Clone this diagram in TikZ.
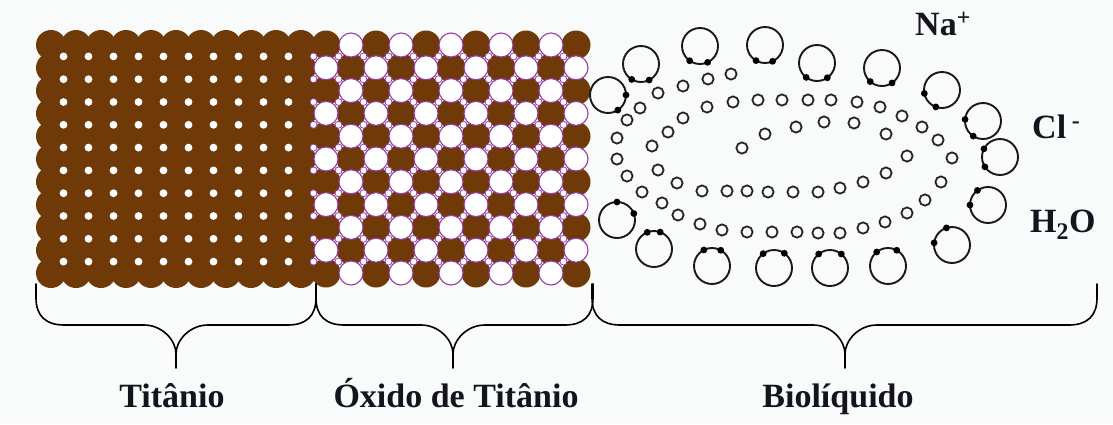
\documentclass[tikz,border=0pt]{standalone}
\usepackage{fontspec}
\setmainfont{Liberation Serif}
\definecolor{tibrown}{RGB}{112,58,8}
\definecolor{oxline}{RGB}{150,60,170}
\definecolor{paper}{RGB}{249,250,250}
\definecolor{ink}{RGB}{20,20,30}
\begin{document}
\begin{tikzpicture}[x=1pt,y=-1pt,
  atom/.style={fill=tibrown},
  vacancy/.style={fill=white,draw=oxline,line width=1.1pt},
  gap/.style={fill=white},
  oxgap/.style={fill=white,draw=oxline,line width=0.8pt},
  ion/.style={draw=black!85,line width=1.8pt},
  water/.style={draw=black!90,line width=1.9pt},
  hydrogen/.style={fill=black},
  bracepath/.style={draw=black,line width=1.6pt,line join=round,line cap=round},
  label/.style={font=\fontsize{34}{40}\selectfont\bfseries,text=ink,inner sep=0pt}]
\fill[paper] (0,0) rectangle (1113,424);
\useasboundingbox (0,0) rectangle (1113,424);

% titanium: close-packed metal atoms
\foreach \i in {0,...,10}
  \foreach \j in {0,...,10}
    \fill[atom] (51+25*\i,45+22.8*\j) circle[radius=15pt];

% titanium oxide: metal sites of the checkerboard
\foreach \i in {0,...,10}
  \foreach \j in {0,...,10} {
    \pgfmathtruncatemacro\site{mod(\i+\j,2)}
    \ifnum\site=0 \fill[atom] (326+25*\i,45+22.8*\j) circle[radius=14.5pt]; \fi
  }
% titanium oxide: oxygen sites
\foreach \i in {0,...,10}
  \foreach \j in {0,...,10} {
    \pgfmathtruncatemacro\site{mod(\i+\j,2)}
    \ifnum\site=1 \filldraw[vacancy] (326+25*\i,45+22.8*\j) circle[radius=12pt]; \fi
  }

% interstitial holes
\foreach \k in {0,...,9}
  \foreach \m in {0,...,9}
    \fill[gap] (63.5+25*\k,56.4+22.8*\m) circle[radius=3.9pt];
\foreach \k in {10,...,20}
  \foreach \m in {0,...,9}
    \filldraw[oxgap] (63.5+25*\k,56.4+22.8*\m) circle[radius=3.5pt];

% ions in the biological fluid
\foreach \x/\y in {731/74,708/79,683/86,658/93,640/108,627/120,617/138,617/159,
  627/176,642/192,662/203,678/215,700/224,722/230,747/232,772/232,797/232,818/233,
  840/233,863/228,885/222,907/213,925/200,941/182,952/158,938/140,922/127,902/116,
  880/107,857/102,831/100,808/100,782/100,758/100,733/102,707/107,683/118,668/132,
  652/146,658/170,677/183,702/191,727/191,747/191,768/192,793/192,818/192,840/188,
  863/182,886/173,907/156,886/134,854/123,824/122,796/127,765/134,742/148}
  \draw[ion] (\x,\y) circle[radius=5.6pt];

% water molecules: oxygen ring with two hydrogens
\foreach \x/\y/\a/\b in {608/95/0/-57, 641/64/-121/-63, 700/46/-125/-65,
  765/45/-120/-65, 817/63/-127/-55, 882/68/-131/-56, 942/90/-169/-110,
  983/121/175/-123, 1000/157/153/-147, 988/205/126/180, 952/245/108/173,
  888/266/129/61, 830/268/129/51, 774/268/127/55, 712/266/117/61,
  654/249/112/70, 617/220/90/21} {
  \draw[water] (\x,\y) circle[radius=18pt];
  \fill[hydrogen] (\x,\y) ++(\a:18pt) circle[radius=3.4pt];
  \fill[hydrogen] (\x,\y) ++(\b:18pt) circle[radius=3.4pt];
}

% braces under the three regions
\foreach \l/\m/\r [count=\n] in {36/176/316, 316/453/593, 592/845/1097} {
  \draw[bracepath] (\l,284) -- (\l,298)
    .. controls (\l,316) and (\l+10,325) .. (\l+28,325) -- (\m-32,325)
    .. controls (\m-14,325) and (\m,340) .. (\m,354)
    .. controls (\m,340) and (\m+14,325) .. (\m+32,325) -- (\r-28,325)
    .. controls (\r-10,325) and (\r,316) .. (\r,298) -- (\r,284);
  \draw[bracepath] (\m,354) coordinate (tip\n) -- (\m,368);
}

% labels
\node[label,anchor=base] (titanio) at (172,407) {Titânio};
\node[label,anchor=base] (oxido) at (456,407) {Óxido de Titânio};
\node[label,anchor=base] (bioliq) at (838,407) {Biolíquido};
\node[label,anchor=base west] (sodio) at (915,35) {Na\textsuperscript{+}};
\node[label,anchor=base west] (cloro) at (1032,138) {Cl\,\textsuperscript{-}};
\node[label,anchor=base west] (agua) at (1030,232) {H\textsubscript{2}O};
\end{tikzpicture}
\end{document}
